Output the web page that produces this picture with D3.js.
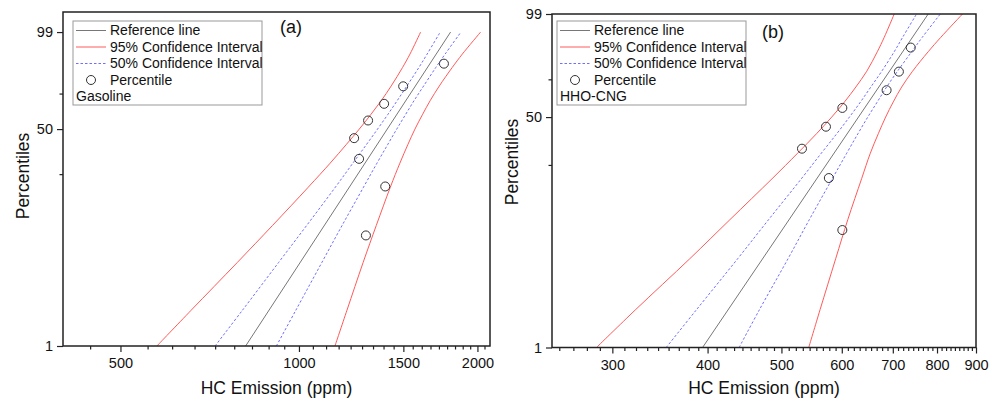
<!DOCTYPE html>
<html lang="en">
<head>
<meta charset="UTF-8">
<title>HC Emission probability plots</title>
<script src="https://d3js.org/d3.v7.min.js"></script>
<style>
  body { margin: 0; background: #fff; }
  svg { font-family: Arial, "Liberation Sans", sans-serif; display: block; }
</style>
</head>
<body>
<svg width="1000" height="403"></svg>
<script>
// percentile levels at which the confidence curves were read
const pctLevels = [1, 2, 5, 10, 20, 30, 40, 50, 60, 70, 80, 90, 95, 99];
// plotting positions of the 8 samples
const ranks = [8.33, 20.24, 32.14, 44.05, 55.95, 67.86, 79.76, 91.67];
const refPct = [1, 99];

// (a) Gasoline
const gasHC = [1297, 1398, 1263, 1239, 1308, 1392, 1499, 1756];
const gasRef = [813, 1802];
const gasLow95 = [576, 658, 787, 902, 1037, 1129, 1201, 1264, 1321, 1376, 1431, 1495, 1539, 1604];
const gasLow50 = [722, 803, 924, 1030, 1152, 1233, 1299, 1357, 1411, 1464, 1521, 1593, 1645, 1731];
const gasHigh50 = [916, 988, 1093, 1182, 1285, 1354, 1411, 1462, 1512, 1563, 1623, 1701, 1764, 1876];
const gasHigh95 = [1150, 1205, 1283, 1350, 1426, 1480, 1526, 1569, 1615, 1664, 1725, 1813, 1886, 2025];

// (b) HHO-CNG
const hhoHC = [601, 577, 532, 572, 601, 687, 713, 739];
const hhoRef = [394, 779];
const hhoLow95 = [286, 322, 379, 428, 486, 525, 556, 582, 605, 626, 647, 668, 682, 703];
const hhoLow50 = [353, 387, 438, 481, 531, 564, 591, 614, 635, 655, 677, 703, 721, 752];
const hhoHigh50 = [440, 468, 510, 544, 583, 609, 630, 649, 668, 687, 710, 741, 765, 808];
const hhoHigh95 = [543, 562, 589, 611, 637, 654, 670, 685, 701, 719, 743, 779, 809, 864];

// axis ticks
const yMajor = [1, 50, 99];
const yMinor = [25, 75];
const xMajorA = [500, 1000, 1500, 2000];
const xMajorB = [300, 400, 500, 600, 700, 800, 900];

const legendLabels = ["Reference line", "95% Confidence Interval", "50% Confidence Interval", "Percentile"];

const svg = d3.select("svg");
const wb = p => Math.log(-Math.log(1 - p / 100)); // weibull probability transform

function panel(opt) {
  const x = d3.scaleLog().domain(opt.xDomain).range([opt.left, opt.right]);
  const yw = d3.scaleLinear().domain([wb(1), wb(opt.yTopPct)]).range([opt.bottom, opt.top]);
  const y = p => yw(wb(p));
  const g = svg.append("g");

  // minor x ticks: 8 between each major step
  const minors = [];
  for (let k = 0; k < 20; k++) {
    for (let j = 1; j < 9; j++) {
      const v = k * opt.step + j * opt.step / 9;
      if (v > opt.xDomain[0] && v < opt.xDomain[1]) minors.push(v);
    }
  }

  const xMinorAxis = d3.axisBottom(x).tickValues(minors).tickSize(3.5).tickFormat("");
  g.append("g").attr("transform", `translate(0,${opt.bottom})`).call(xMinorAxis);
  const xAxis = d3.axisBottom(x).tickValues(opt.xMajor).tickSize(6).tickPadding(6).tickFormat(d3.format("d"));
  g.append("g").attr("transform", `translate(0,${opt.bottom})`).call(xAxis);

  const yAxis = d3.axisLeft(yw).tickValues(yMajor.map(wb)).tickSize(6).tickPadding(4)
    .tickFormat((d, i) => yMajor[i]);
  g.append("g").attr("transform", `translate(${opt.left},0)`).call(yAxis);
  const yMinorAxis = d3.axisLeft(yw).tickValues(yMinor.map(wb)).tickSize(3.5).tickFormat("");
  g.append("g").attr("transform", `translate(${opt.left},0)`).call(yMinorAxis);

  g.selectAll(".domain").remove();
  g.selectAll(".tick line").attr("stroke", "#222").attr("stroke-width", 1.2);
  g.selectAll(".tick text").attr("font-size", 14.5).attr("fill", "#111")
    .attr("font-family", "Arial, 'Liberation Sans', sans-serif");

  // curves
  const line = d3.line().x(d => x(d[1])).y(d => y(d[0])).curve(d3.curveCatmullRom);
  const curve = (vals, color, dash) => g.append("path")
    .datum(pctLevels.map((p, i) => [p, vals[i]]))
    .attr("d", line).attr("fill", "none").attr("stroke", color).attr("stroke-width", 1)
    .attr("stroke-dasharray", dash || null);

  curve(opt.low95, "#ff5a5a");
  curve(opt.high95, "#ff5a5a");
  curve(opt.low50, "#6f6fff", "2.5,2");
  curve(opt.high50, "#6f6fff", "2.5,2");
  g.append("path")
    .datum(refPct.map((p, i) => [p, opt.ref[i]]))
    .attr("d", d3.line().x(d => x(d[1])).y(d => y(d[0])))
    .attr("stroke", "#777").attr("stroke-width", 1).attr("fill", "none");

  g.selectAll("circle.pt").data(opt.hc).join("circle")
    .attr("class", "pt")
    .attr("cx", d => x(d)).attr("cy", (d, i) => y(ranks[i]))
    .attr("r", 4.5).attr("fill", "none").attr("stroke", "#333").attr("stroke-width", 1);

  // frame
  g.append("rect")
    .attr("x", opt.left).attr("y", opt.top)
    .attr("width", opt.right - opt.left).attr("height", opt.bottom - opt.top)
    .attr("fill", "none").attr("stroke", "#222").attr("stroke-width", 1.5);

  // legend
  const lg = g.append("g").attr("transform", `translate(${opt.legX},${opt.legY})`);
  lg.append("rect").attr("width", 189).attr("height", 84)
    .attr("fill", "#fff").attr("stroke", "#999").attr("stroke-width", 1);
  const rowY = i => 9.5 + i * 16.5;
  const sw = [["#777", null], ["#ff5a5a", null], ["#6f6fff", "2.5,2"]];
  sw.forEach((s, i) => {
    lg.append("line").attr("x1", 3).attr("x2", 33).attr("y1", rowY(i)).attr("y2", rowY(i))
      .attr("stroke", s[0]).attr("stroke-width", 1).attr("stroke-dasharray", s[1]);
  });
  lg.append("circle").attr("cx", 18).attr("cy", rowY(3)).attr("r", 4.5)
    .attr("fill", "none").attr("stroke", "#333");
  legendLabels.forEach((t, i) => {
    lg.append("text").attr("x", 37).attr("y", rowY(i)).attr("dy", "0.35em")
      .attr("font-size", 14).attr("fill", "#111").text(t);
  });
  lg.append("text").attr("x", 3).attr("y", rowY(4)).attr("dy", "0.35em")
    .attr("font-size", 14).attr("fill", "#111").text(opt.name);

  // panel tag
  g.append("text").attr("x", opt.tagX).attr("y", opt.tagY)
    .attr("font-size", 18).attr("fill", "#111").text(opt.tag);

  // axis titles
  g.append("text").attr("x", (opt.left + opt.right) / 2).attr("y", 394)
    .attr("text-anchor", "middle").attr("font-size", 17.5).attr("fill", "#111")
    .text("HC Emission (ppm)");
  g.append("text")
    .attr("transform", `translate(${opt.left - 34},${opt.titleY}) rotate(-90)`)
    .attr("text-anchor", "middle").attr("font-size", 17.5).attr("fill", "#111")
    .text("Percentiles");
}

panel({
  left: 63, right: 490, top: 12, bottom: 346, yTopPct: 99.89,
  xDomain: [400, 2100], xMajor: xMajorA, step: 500,
  hc: gasHC, ref: gasRef, low95: gasLow95, high95: gasHigh95, low50: gasLow50, high50: gasHigh50,
  legX: 73, legY: 21, name: "Gasoline", tag: "(a)", tagX: 280, tagY: 33, titleY: 176
});

panel({
  left: 552, right: 976, top: 14, bottom: 347.5, yTopPct: 99,
  xDomain: [250, 900], xMajor: xMajorB, step: 100,
  hc: hhoHC, ref: hhoRef, low95: hhoLow95, high95: hhoHigh95, low50: hhoLow50, high50: hhoHigh50,
  legX: 557, legY: 21, name: "HHO-CNG", tag: "(b)", tagX: 762, tagY: 38, titleY: 162
});
</script>
</body>
</html>
